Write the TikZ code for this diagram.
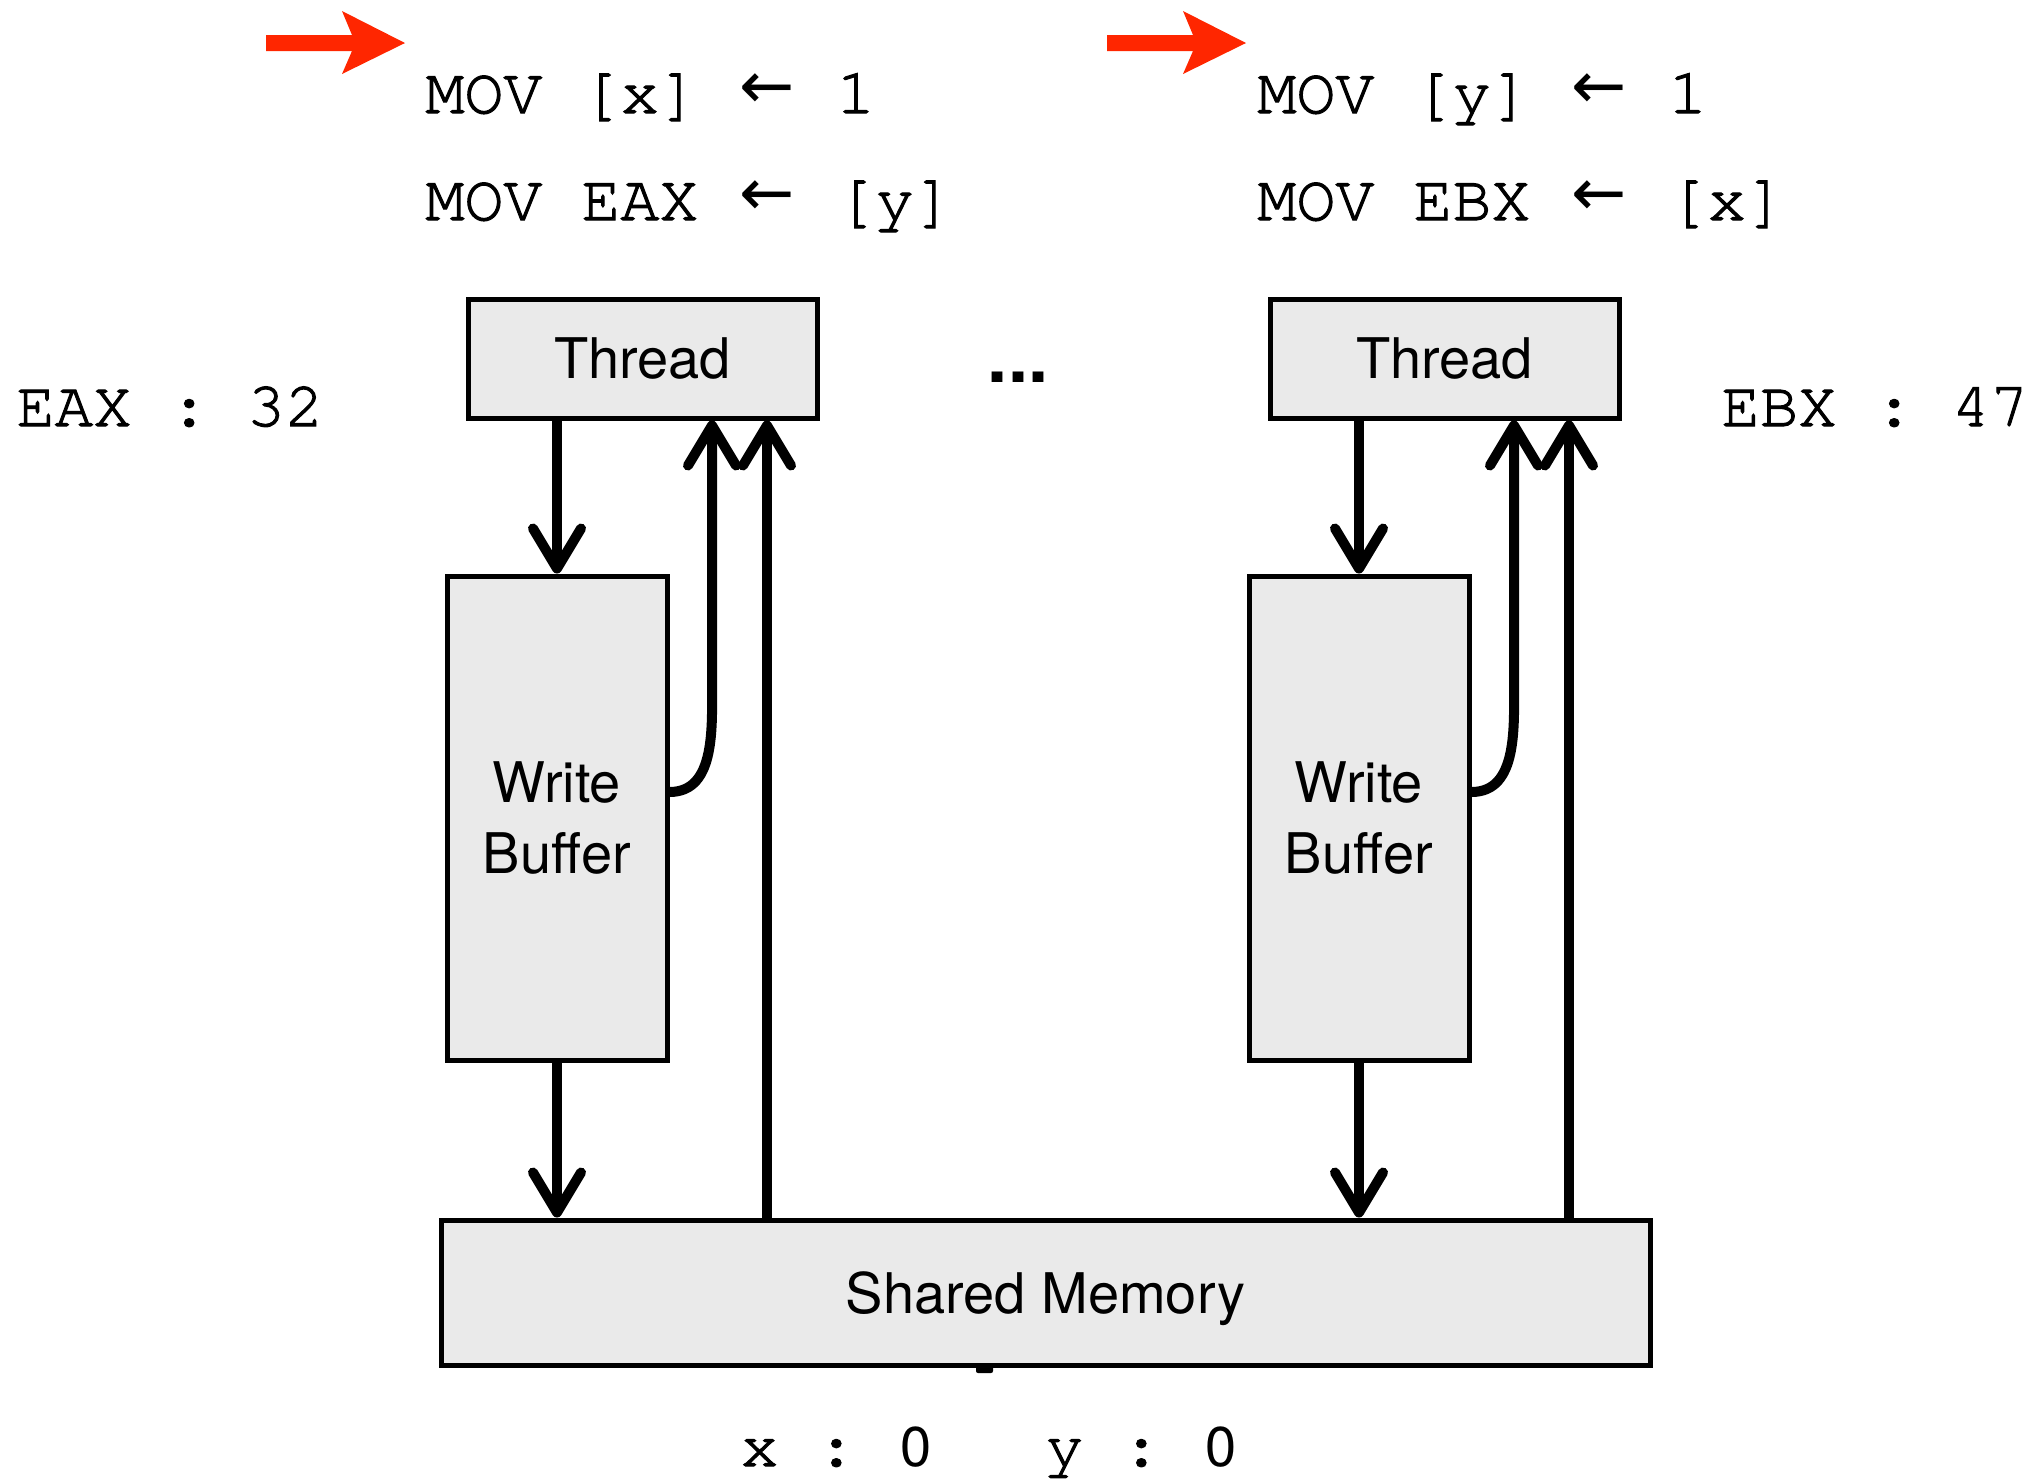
\documentclass[tikz,border=0pt]{standalone}
\usepackage{fontspec}
\setmainfont{TeX Gyre Heros}
\newfontfamily\monof{texgyrecursor-regular.otf}[FakeBold=1.6]
\newfontfamily\arrf{DejaVu Sans}
\newcommand\larr{\makebox[30pt][c]{\raisebox{2.5pt}{\arrf\fontsize{33}{36}\selectfont ←}}}
\usetikzlibrary{arrows.meta}
\definecolor{boxgray}{HTML}{EAEAEA}
\definecolor{redarrow}{HTML}{FF2600}
\begin{document}
\begin{tikzpicture}[x=0.5pt,y=-0.5pt,
  box/.style={draw=black, fill=boxgray, line width=2.5pt, inner sep=0pt, align=center,
    font=\fontsize{28}{35.5}\selectfont},
  arr/.style={line width=5pt, -{Straight Barb[length=20pt,width=24pt,round]}},
  code/.style={anchor=base west, inner sep=0pt, font=\fontsize{32.5}{40}\monof},
  val/.style={anchor=base west, inner sep=0pt, font=\fontsize{32}{40}\monof},
  redarr/.style={fill=redarrow, draw=none}
]
\useasboundingbox (0,0) rectangle (2036,1480);

% boxes
\node[box, minimum width=174.5pt, minimum height=59.5pt] (thr1) at (642.5,358.5) {Thread};
\node[box, minimum width=174.5pt, minimum height=59.5pt] (thr2) at (1444.5,358.5) {Thread};
\node[box, minimum width=110pt, minimum height=242pt] (wb1) at (557,818) {Write\\Buffer};
\node[box, minimum width=110pt, minimum height=242pt] (wb2) at (1359,818) {Write\\Buffer};
\node[box, minimum width=604.5pt, minimum height=72.5pt] (sm) at (1045.5,1292.5) {\raisebox{-3.25pt}[\height][\depth]{Shared Memory}};

% helper coordinates
\coordinate (u1) at (767,0);
\coordinate (u2) at (1569,0);
\coordinate (c1) at (712,680);
\coordinate (c2) at (1514,680);
\coordinate (y1) at (0,792);

% connectors
\draw[arr] (wb1.north |- thr1.south) -- (wb1.north);
\draw[arr] (wb1.south) -- (wb1.south |- sm.north);
\draw[arr] (wb1.east |- y1) to[out=0,in=-90] (c1) -- (c1 |- thr1.south);
\draw[arr] (u1 |- sm.north) -- (u1 |- thr1.south);

\draw[arr] (wb2.north |- thr2.south) -- (wb2.north);
\draw[arr] (wb2.south) -- (wb2.south |- sm.north);
\draw[arr] (wb2.east |- y1) to[out=0,in=-90] (c2) -- (c2 |- thr2.south);
\draw[arr] (u2 |- sm.north) -- (u2 |- thr2.south);

% small mark under shared memory
\fill[rounded corners=1pt] (976,1366) rectangle (993,1373);

% red arrows
\fill[redarr] (266,35) -- (352,35) -- (342,11) -- (405,43) -- (342,74) -- (352,51) -- (266,51) -- cycle;
\fill[redarr] (1107,35) -- (1193,35) -- (1183,11) -- (1246,43) -- (1183,74) -- (1193,51) -- (1107,51) -- cycle;

% code
\node[code] (l1) at (425,113) {MOV [x] \larr{} 1};
\node[code] (l2) at (425,220) {MOV EAX \larr{} [y]};
\node[code] (r1) at (1257,113) {MOV [y] \larr{} 1};
\node[code] (r2) at (1257,220) {MOV EBX \larr{} [x]};

\node[val] (eax) at (16,426) {EAX : 32};
\node[val] (ebx) at (1721,426) {EBX : 47};

\node[val] (xv) at (740,1466) {x : \kern-3pt{\fontsize{28}{36}\rmfamily 0}};
\node[val] (yv) at (1045,1466) {y : \kern-3pt{\fontsize{28}{36}\rmfamily 0}};

\node[anchor=base, inner sep=0pt, font=\fontsize{36}{40}\bfseries] (dots) at (1018,382) {...};
\end{tikzpicture}
\end{document}
